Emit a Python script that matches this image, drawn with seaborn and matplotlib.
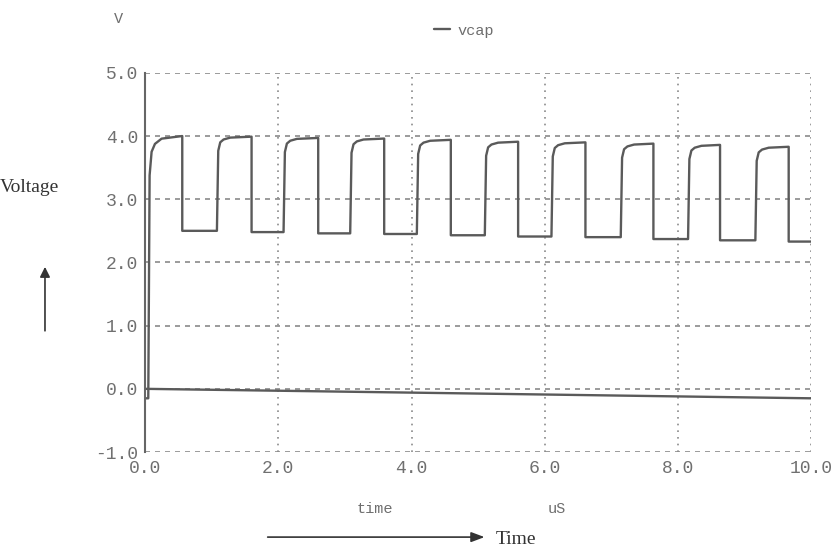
import numpy as np
import pandas as pd
import matplotlib
matplotlib.use("Agg")
import matplotlib.pyplot as plt
import seaborn as sns

# Values (time in uS, voltage in V)
rise_times = [0.05, 1.08, 2.08, 3.08, 4.08, 5.10, 6.10, 7.14, 8.15, 9.16]
fall_times = [0.56, 1.60, 2.60, 3.59, 4.59, 5.60, 6.61, 7.63, 8.63, 9.66]
high_levels = [4.00, 3.99, 3.97, 3.96, 3.94, 3.91, 3.90, 3.88, 3.86, 3.83]
low_levels = [2.50, 2.48, 2.46, 2.45, 2.43, 2.41, 2.40, 2.37, 2.35, 2.33]
start_level = -0.15
end_time = 10.0

# shape of each rising edge (offset in uS, fraction of the step)
rise_dt = [0.0, 0.02, 0.05, 0.10, 0.20]
rise_frac = [0.0, 0.85, 0.94, 0.97, 0.99]

# lower trace
base_t = [0.0, 10.0]
base_v = [0.0, -0.15]

xticks = [0.0, 2.0, 4.0, 6.0, 8.0, 10.0]
yticks = [-1.0, 0.0, 1.0, 2.0, 3.0, 4.0, 5.0]

# build vcap vertices
t_pts, v_pts = [0.0], [start_level]
prev_low = start_level
for i in range(len(rise_times)):
    hi = high_levels[i]
    for dt, fr in zip(rise_dt, rise_frac):
        t_pts.append(rise_times[i] + dt)
        v_pts.append(prev_low + fr * (hi - prev_low))
    t_pts += [fall_times[i], fall_times[i]]
    v_pts += [hi, low_levels[i]]
    prev_low = low_levels[i]
t_pts.append(end_time)
v_pts.append(low_levels[-1])

vcap = pd.DataFrame({"time": t_pts, "v": v_pts})
base = pd.DataFrame({"time": base_t, "v": base_v})

sns.set_theme(style="white")
plt.rcParams["font.family"] = ["Liberation Mono", "DejaVu Sans Mono"]

fig = plt.figure(figsize=(8.33, 5.56), dpi=100)
ax = fig.add_axes([0.174, 0.187, 0.80, 0.682])

trace_col = "#5a5a5a"
sns.lineplot(data=vcap, x="time", y="v", ax=ax, sort=False, estimator=None,
             color=trace_col, linewidth=1.7, label="vcap")
sns.lineplot(data=base, x="time", y="v", ax=ax, sort=False, estimator=None,
             color=trace_col, linewidth=1.7)

ax.set_xlim(0, 10)
ax.set_ylim(-1, 5)
ax.set_xticks(xticks)
ax.set_yticks(yticks)
ax.set_xticklabels([f"{x:.1f}" for x in xticks])
ax.set_yticklabels([f"{y:.1f}" for y in yticks])
ax.tick_params(axis="both", length=0, labelsize=13, colors="#707070")
ax.tick_params(axis="x", pad=6)
ax.tick_params(axis="y", pad=5)
ax.set_xlabel("")
ax.set_ylabel("")

# grid: dashed horizontals, dotted verticals
for y in yticks:
    ax.axhline(y, color="#8a8a8a", linewidth=1.2, linestyle=(0, (3, 3)), zorder=0)
for x in xticks[1:]:
    ax.axvline(x, color="#8a8a8a", linewidth=1.2, linestyle=(0, (1, 3)), zorder=0)

for s in ["top", "right", "bottom"]:
    ax.spines[s].set_visible(False)
ax.spines["left"].set_color("#666666")
ax.spines["left"].set_linewidth(1.5)

leg = ax.legend(loc="center", bbox_to_anchor=(0.557, 0.945), bbox_transform=fig.transFigure,
                frameon=False, handlelength=1.1, handletextpad=0.5, fontsize=11)
for txt in leg.get_texts():
    txt.set_color("#6e6e6e")

fig.text(0.142, 0.965, "V", fontsize=11, color="#6e6e6e", ha="center", va="center")
fig.text(0.45, 0.085, "time", fontsize=11, color="#6e6e6e", ha="center", va="center")
fig.text(0.668, 0.085, "uS", fontsize=11, color="#6e6e6e", ha="center", va="center")

# hand-drawn style annotations
fig.text(0.0, 0.662, "Voltage", fontsize=14, family="Liberation Serif",
         color="#333333", ha="left", va="center")
fig.text(0.595, 0.03, "Time", fontsize=14, family="Liberation Serif",
         color="#333333", ha="left", va="center")
fig.add_artist(matplotlib.patches.FancyArrowPatch(
    (0.054, 0.40), (0.054, 0.525), transform=fig.transFigure,
    arrowstyle="-|>,head_length=6,head_width=3", color="#333333", linewidth=1.2))
fig.add_artist(matplotlib.patches.FancyArrowPatch(
    (0.318, 0.034), (0.585, 0.034), transform=fig.transFigure,
    arrowstyle="-|>,head_length=8,head_width=3", color="#333333", linewidth=1.2))

fig.savefig("out.png", dpi=100, facecolor="white")
